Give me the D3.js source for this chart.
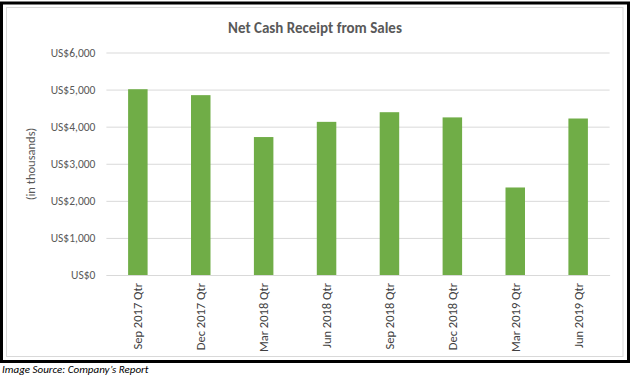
<!DOCTYPE html>
<html>
<head>
<meta charset="utf-8">
<script src="https://cdn.jsdelivr.net/npm/d3@7"></script>
<style>
  html, body { margin: 0; padding: 0; background: #ffffff; }
  svg { display: block; }
</style>
</head>
<body>
<svg id="chart" width="633" height="382"></svg>
<script>
const categories = ["Sep 2017 Qtr", "Dec 2017 Qtr", "Mar 2018 Qtr", "Jun 2018 Qtr",
                    "Sep 2018 Qtr", "Dec 2018 Qtr", "Mar 2019 Qtr", "Jun 2019 Qtr"];
const netCashReceipt = [5010, 4850, 3720, 4130, 4390, 4250, 2360, 4220];
const yTicks = [0, 1000, 2000, 3000, 4000, 5000, 6000];
const titleText = "Net Cash Receipt from Sales";
const yAxisTitle = "(in thousands)";
const sourceText = "Image Source: Company\u2019s Report";

const FONT = "Carlito, Calibri, Lato, sans-serif";
const svg = d3.select("#chart");

// frames
svg.append("rect").attr("x", 1.5).attr("y", 3).attr("width", 627).attr("height", 358.5)
  .attr("fill", "#fff").attr("stroke", "#000").attr("stroke-width", 3);
svg.append("rect").attr("x", 6.5).attr("y", 7.5).attr("width", 616.5).attr("height", 349)
  .attr("fill", "#fff").attr("stroke", "#d9d9d9").attr("stroke-width", 1);

const x = d3.scaleBand().domain(categories).range([106.4, 609.6]).paddingInner(0.69).paddingOuter(0.345);
const y = d3.scaleLinear().domain([0, 6000]).range([275, 52.5]);

// gridlines
const yAxis = d3.axisLeft(y).tickValues(yTicks)
  .tickSize(-(609.6 - 106.4)).tickPadding(11)
  .tickFormat(d => "US$" + d3.format(",")(d));
const gy = svg.append("g").attr("transform", "translate(106.4,0)").call(yAxis);
gy.select(".domain").remove();
gy.selectAll(".tick line").attr("stroke", "#d9d9d9").attr("stroke-width", 1);
gy.selectAll(".tick text").attr("fill", "#595959").style("font-family", FONT).style("font-size", "11.5px");

// bars
svg.append("g").selectAll("rect").data(netCashReceipt).join("rect")
  .attr("x", (d, i) => x(categories[i]))
  .attr("y", d => y(d))
  .attr("width", x.bandwidth())
  .attr("height", d => y(0) - y(d))
  .attr("fill", "#70ad47");

// x axis
const xAxis = d3.axisBottom(x).tickSize(0).tickPadding(0);
const gx = svg.append("g").attr("transform", "translate(0,275)").call(xAxis);
gx.select(".domain").attr("stroke", "#d9d9d9");
gx.selectAll(".tick text")
  .attr("fill", "#404040").style("font-family", FONT).style("font-size", "12.5px")
  .attr("transform", "rotate(-90)")
  .attr("text-anchor", "end")
  .attr("x", -8).attr("y", 0).attr("dy", "0.35em");

// title
svg.append("text").attr("x", 315).attr("y", 33).attr("text-anchor", "middle")
  .attr("fill", "#595959").style("font-family", FONT).style("font-size", "15px").style("font-weight", "bold")
  .text(titleText);

// y axis title
svg.append("text").attr("transform", "translate(35,164) rotate(-90)").attr("text-anchor", "middle")
  .attr("fill", "#595959").style("font-family", FONT).style("font-size", "12.5px")
  .text(yAxisTitle);

// source
svg.append("text").attr("x", 2).attr("y", 373)
  .attr("fill", "#000").style("font-family", FONT).style("font-size", "11px").style("font-style", "italic")
  .text(sourceText);
</script>
</body>
</html>
